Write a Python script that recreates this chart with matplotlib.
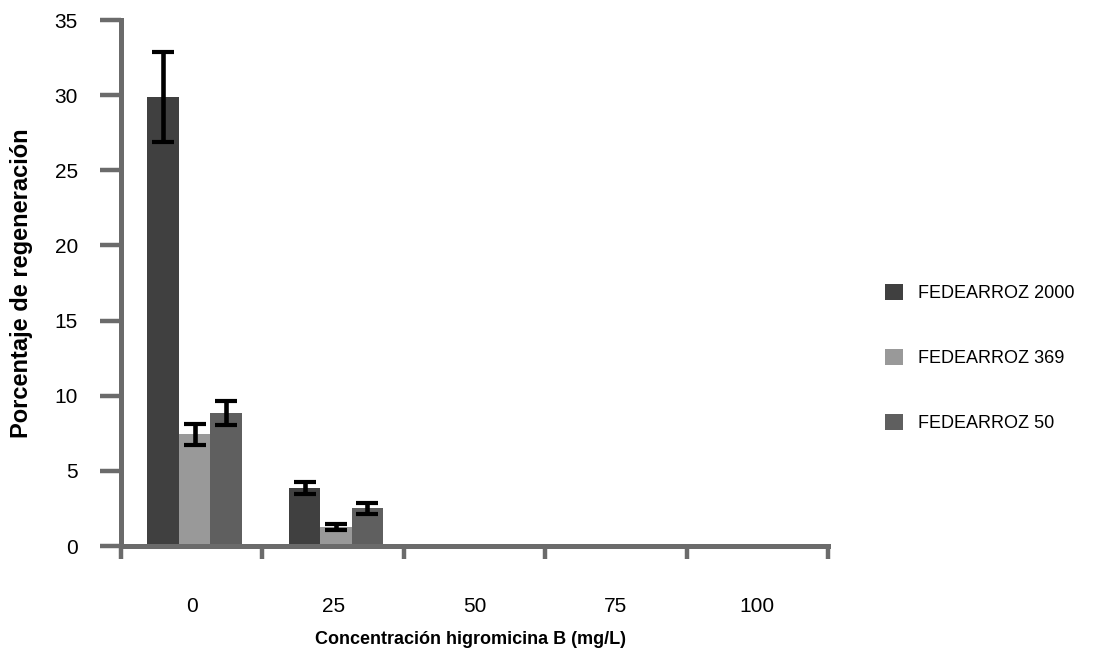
import matplotlib

matplotlib.use("Agg")
import matplotlib.pyplot as plt
import numpy as np
from matplotlib.patches import Patch

# data
concentrations = ["0", "25", "50", "75", "100"]
series_names = ["FEDEARROZ 2000", "FEDEARROZ 369", "FEDEARROZ 50"]
fed2000 = [29.9, 3.85, 0.0, 0.0, 0.0]
fed2000_err = [3.0, 0.4, 0.0, 0.0, 0.0]
fed369 = [7.45, 1.25, 0.0, 0.0, 0.0]
fed369_err = [0.7, 0.2, 0.0, 0.0, 0.0]
fed50 = [8.85, 2.5, 0.0, 0.0, 0.0]
fed50_err = [0.8, 0.35, 0.0, 0.0, 0.0]
y_ticks = [0, 5, 10, 15, 20, 25, 30, 35]

colors = ["#404040", "#999999", "#5f5f5f"]
axis_color = "#6b6b6b"

plt.rcParams["font.family"] = ["Liberation Sans", "DejaVu Sans"]

W, H = 1093, 661
fig = plt.figure(figsize=(W / 100, H / 100), dpi=100)
ax = fig.add_axes([121 / W, 1 - 546 / H, (828 - 121) / W, (546 - 20) / H])

x = np.arange(len(concentrations))
width = 0.222
values = [fed2000, fed369, fed50]
errors = [fed2000_err, fed369_err, fed50_err]
for i, (vals, errs) in enumerate(zip(values, errors)):
    pos = x + (i - 1) * width + 0.02
    ax.bar(pos, vals, width, color=colors[i], edgecolor="none", zorder=2)
    has_err = np.array(errs) > 0
    ax.errorbar(pos[has_err], np.array(vals)[has_err], yerr=np.array(errs)[has_err],
                fmt="none", ecolor="black", elinewidth=3.3, capsize=8, capthick=3.0, zorder=3)

ax.set_xlim(-0.5, len(concentrations) - 0.5)
ax.set_ylim(0, 35)
ax.set_yticks(y_ticks)
ax.tick_params(axis="y", direction="out", length=15, width=3.2, color=axis_color,
               labelsize=15, pad=16)
ax.set_xticks(np.arange(len(concentrations) + 1) - 0.5)
ax.set_xticklabels([])
ax.tick_params(axis="x", which="major", direction="out", length=9.5, width=3.2, color=axis_color)
ax.set_xticks(x, minor=True)
ax.set_xticklabels(concentrations, minor=True)
ax.tick_params(axis="x", which="minor", length=0, labelsize=15, pad=37)

for side in ["top", "right"]:
    ax.spines[side].set_visible(False)
for side in ["left", "bottom"]:
    ax.spines[side].set_color(axis_color)
    ax.spines[side].set_linewidth(3.6)

ax.set_ylabel("Porcentaje de regeneración", fontsize=17, fontweight="bold")
ax.yaxis.set_label_coords(-88 / (828 - 121), 0.5)
ax.set_xlabel("Concentración higromicina B (mg/L)", fontsize=13, fontweight="bold")
ax.xaxis.set_label_coords(0.495, -85 / (546 - 20))

handles = [Patch(facecolor=c, edgecolor="none") for c in colors]
fig.legend(handles, series_names, loc="center left", bbox_to_anchor=(885 / W, 1 - 358 / H),
           frameon=False, fontsize=13, handlelength=1.0, handleheight=1.0,
           labelspacing=2.6, handletextpad=0.83, borderpad=0, borderaxespad=0)

fig.savefig("out.png", dpi=100)
